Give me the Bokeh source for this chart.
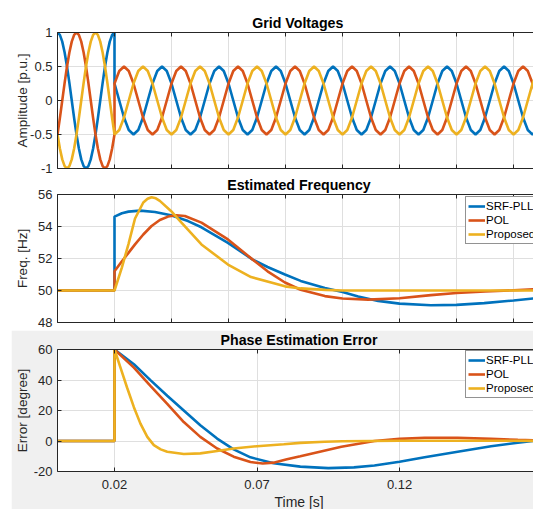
import numpy as np
from bokeh.plotting import figure
from bokeh.models import Range1d, FixedTicker, LinearAxis, Legend, LegendItem, Spacer, Title
from bokeh.layouts import column, row
from bokeh.embed import file_html
from bokeh.resources import INLINE

# ------------------------------------------------------------------ data
# Grid voltages [p.u.]: one cycle before the event
# (15 deg samples), then 7.5 cycles after the sag / phase jump (30 deg samples)
T_START, T_EVENT, T_END = 0.0, 0.02, 0.17
va_pre = [1, 0.966, 0.866, 0.707, 0.5, 0.259, 0, -0.259, -0.5, -0.707, -0.866, -0.966, -1,
          -0.966, -0.866, -0.707, -0.5, -0.259, 0, 0.259, 0.5, 0.707, 0.866, 0.966, 1]
vb_pre = [-0.5, -0.259, 0, 0.259, 0.5, 0.707, 0.866, 0.966, 1, 0.966, 0.866, 0.707, 0.5,
          0.259, 0, -0.259, -0.5, -0.707, -0.866, -0.966, -1, -0.966, -0.866, -0.707, -0.5]
vc_pre = [-0.5, -0.707, -0.866, -0.966, -1, -0.966, -0.866, -0.707, -0.5, -0.259, 0, 0.259, 0.5,
          0.707, 0.866, 0.966, 1, 0.966, 0.866, 0.707, 0.5, 0.259, 0, -0.259, -0.5]
va_post = [0.25, 0, -0.25, -0.433, -0.5, -0.433, -0.25, 0, 0.25, 0.433, 0.5, 0.433,
           0.25, 0, -0.25, -0.433, -0.5, -0.433, -0.25, 0, 0.25, 0.433, 0.5, 0.433,
           0.25, 0, -0.25, -0.433, -0.5, -0.433, -0.25, 0, 0.25, 0.433, 0.5, 0.433,
           0.25, 0, -0.25, -0.433, -0.5, -0.433, -0.25, 0, 0.25, 0.433, 0.5, 0.433,
           0.25, 0, -0.25, -0.433, -0.5, -0.433, -0.25, 0, 0.25, 0.433, 0.5, 0.433,
           0.25, 0, -0.25, -0.433, -0.5, -0.433, -0.25, 0, 0.25, 0.433, 0.5, 0.433,
           0.25, 0, -0.25, -0.433, -0.5, -0.433, -0.25, 0, 0.25, 0.433, 0.5, 0.433,
           0.25, 0, -0.25, -0.433, -0.5, -0.433, -0.25]
vb_post = [0.25, 0.433, 0.5, 0.433, 0.25, 0, -0.25, -0.433, -0.5, -0.433, -0.25, 0,
           0.25, 0.433, 0.5, 0.433, 0.25, 0, -0.25, -0.433, -0.5, -0.433, -0.25, 0,
           0.25, 0.433, 0.5, 0.433, 0.25, 0, -0.25, -0.433, -0.5, -0.433, -0.25, 0,
           0.25, 0.433, 0.5, 0.433, 0.25, 0, -0.25, -0.433, -0.5, -0.433, -0.25, 0,
           0.25, 0.433, 0.5, 0.433, 0.25, 0, -0.25, -0.433, -0.5, -0.433, -0.25, 0,
           0.25, 0.433, 0.5, 0.433, 0.25, 0, -0.25, -0.433, -0.5, -0.433, -0.25, 0,
           0.25, 0.433, 0.5, 0.433, 0.25, 0, -0.25, -0.433, -0.5, -0.433, -0.25, 0,
           0.25, 0.433, 0.5, 0.433, 0.25, 0, -0.25]
vc_post = [-0.5, -0.433, -0.25, 0, 0.25, 0.433, 0.5, 0.433, 0.25, 0, -0.25, -0.433,
           -0.5, -0.433, -0.25, 0, 0.25, 0.433, 0.5, 0.433, 0.25, 0, -0.25, -0.433,
           -0.5, -0.433, -0.25, 0, 0.25, 0.433, 0.5, 0.433, 0.25, 0, -0.25, -0.433,
           -0.5, -0.433, -0.25, 0, 0.25, 0.433, 0.5, 0.433, 0.25, 0, -0.25, -0.433,
           -0.5, -0.433, -0.25, 0, 0.25, 0.433, 0.5, 0.433, 0.25, 0, -0.25, -0.433,
           -0.5, -0.433, -0.25, 0, 0.25, 0.433, 0.5, 0.433, 0.25, 0, -0.25, -0.433,
           -0.5, -0.433, -0.25, 0, 0.25, 0.433, 0.5, 0.433, 0.25, 0, -0.25, -0.433,
           -0.5, -0.433, -0.25, 0, 0.25, 0.433, 0.5]

# Estimated frequency [Hz]
t_srf_f = [0.0, 0.02, 0.02, 0.0226, 0.0249, 0.0290, 0.0342, 0.0398, 0.0458, 0.0505, 0.0598,
           0.0685, 0.0737, 0.0798, 0.0853, 0.0938, 0.1000, 0.1055, 0.1125, 0.1200, 0.1310,
           0.1400, 0.1497, 0.1600, 0.1670]
f_srf = [50.0, 50.0, 54.62, 54.83, 54.93, 54.99, 54.91, 54.70, 54.34, 53.95, 52.98,
         51.93, 51.47, 51.0, 50.6, 50.15, 49.9, 49.63, 49.35, 49.18, 49.08,
         49.1, 49.21, 49.38, 49.5]
t_pol_f = [0.0, 0.02, 0.02, 0.0226, 0.0249, 0.0272, 0.0301, 0.0330, 0.0359, 0.0388, 0.0417,
           0.0447, 0.0505, 0.0598, 0.0685, 0.0737, 0.0798, 0.0853, 0.0938, 0.1000, 0.1090,
           0.1200, 0.1310, 0.1400, 0.1500, 0.1600, 0.1670]
f_pol = [50.0, 50.0, 51.2, 51.83, 52.35, 52.88, 53.5, 54.03, 54.41, 54.62, 54.70,
         54.66, 54.24, 53.19, 51.93, 51.2, 50.5, 50.05, 49.65, 49.5, 49.43,
         49.52, 49.71, 49.84, 49.94, 50.02, 50.07]
t_prop_f = [0.0, 0.02, 0.0226, 0.0249, 0.0272, 0.0301, 0.0316, 0.0330, 0.0345, 0.0359, 0.0398,
            0.0435, 0.0505, 0.0598, 0.0679, 0.0798, 0.0853, 0.0940, 0.1000, 0.1670]
f_prop = [50.0, 50.0, 51.45, 52.9, 54.5, 55.5, 55.73, 55.83, 55.76, 55.6, 54.97,
          54.24, 52.88, 51.62, 50.84, 50.26, 50.13, 50.04, 50.0, 50.0]

# Phase estimation error [degree]
t_srf_e = [0.0, 0.02, 0.02, 0.0268, 0.0326, 0.0385, 0.0443, 0.0501, 0.0560, 0.0618, 0.0677,
           0.0758, 0.0852, 0.0950, 0.1040, 0.1112, 0.1200, 0.1288, 0.1404, 0.1521, 0.1615, 0.1670]
e_srf = [0.0, 0.0, 60.0, 50.3, 39.9, 29.7, 20.0, 10.3, 1.6, -5.5, -10.7,
         -14.6, -16.8, -17.8, -17.3, -16.1, -13.6, -10.7, -7.0, -3.4, -1.2, 0.0]
t_pol_e = [0.0, 0.02, 0.02, 0.0268, 0.0326, 0.0385, 0.0443, 0.0501, 0.0560, 0.0618, 0.0677,
           0.0720, 0.0758, 0.0805, 0.0852, 0.0890, 0.0996, 0.1112, 0.1200, 0.1288, 0.1404,
           0.1521, 0.1615, 0.1670]
e_pol = [0.0, 0.0, 60.0, 48.1, 36.2, 24.3, 12.4, 2.7, -4.9, -10.3, -13.8,
         -14.8, -14.2, -12.0, -10.0, -8.3, -3.8, 0.0, 1.4, 2.1, 2.1,
         1.4, 0.8, 0.5]
t_prop_e = [0.0, 0.02, 0.02, 0.0221, 0.0244, 0.0268, 0.0291, 0.0315, 0.0338, 0.0362, 0.0385,
            0.0443, 0.0501, 0.0560, 0.0618, 0.0700, 0.0794, 0.0852, 0.0937, 0.1000, 0.1200, 0.1670]
e_prop = [0.0, 0.0, 60.0, 48.1, 35.1, 22.2, 11.4, 2.7, -2.7, -5.5, -7.0,
          -8.5, -8.1, -6.6, -4.9, -3.4, -2.1, -1.2, -0.5, -0.2, 0.2, 0.1]

series_names = ["SRF-PLL", "POL", "Proposed"]
titles = ["Grid Voltages", "Estimated Frequency", "Phase Estimation Error"]
y_labels = ["Amplitude [p.u.]", "Freq. [Hz]", "Error [degree]"]
x_label = "Time [s]"

x_ticks_top = [0, 0.02, 0.04, 0.06, 0.08, 0.1, 0.12, 0.14, 0.16]
x_ticks_bottom = [0.02, 0.07, 0.12, 0.17]
x_tick_labels_bottom = ["0.02", "0.07", "0.12", "0.17"]
y1_ticks = [-1, -0.5, 0, 0.5, 1]
y1_tick_labels = ["-1", "-0.5", "0", "0.5", "1"]
y2_ticks = [48, 50, 52, 54, 56]
y2_tick_labels = ["48", "50", "52", "54", "56"]
y3_ticks = [-20, 0, 20, 40, 60]
y3_tick_labels = ["-20", "0", "20", "40", "60"]
X_VIEW_END = 0.167

# ------------------------------------------------------------------ style
COLORS = ["#0072BD", "#D95319", "#EDB120"]
AX = "#262626"
GRID = "#DFDFDF"
FONT = "Liberation Sans"
LW = 2.6


def style_axis(ax, ticks, labels=None, show=True, standoff=5):
    ax.ticker = FixedTicker(ticks=ticks)
    ax.axis_line_color = AX
    ax.axis_line_width = 1
    ax.major_tick_line_color = AX
    ax.major_tick_in = 4
    ax.major_tick_out = 0
    ax.minor_tick_line_color = None
    ax.major_label_text_font = FONT
    if show:
        ax.major_label_text_color = AX
        ax.major_label_text_font_size = "13px"
        ax.major_label_standoff = standoff
        if labels is not None:
            ax.major_label_overrides = {t: l for t, l in zip(ticks, labels)}
    else:
        ax.major_label_text_color = None
        ax.major_label_text_alpha = 0
        ax.major_label_text_font_size = "0px"
        ax.major_label_standoff = 0
    ax.axis_label_text_font = FONT
    ax.axis_label_text_font_size = "13.5px"
    ax.axis_label_text_font_style = "normal"
    ax.axis_label_text_color = AX


def make_fig(width, height, yr, xticks, yticks, ylabs, ylabel, ylab_standoff, title,
             title_offset, top, bottom, left, show_x, border="white"):
    p = figure(width=width, height=height, x_range=Range1d(T_START, X_VIEW_END),
               y_range=Range1d(*yr), output_backend="svg", toolbar_location=None,
               min_border_left=left, min_border_right=0, min_border_top=top,
               min_border_bottom=bottom, title=title)
    p.outline_line_color = None
    p.border_fill_color = border
    p.background_fill_color = "white"
    p.title.text_font = FONT
    p.title.text_font_size = "14.2px"
    p.title.text_font_style = "bold"
    p.title.text_color = "black"
    p.title.align = "left"
    p.title.vertical_align = "top"
    p.title.offset = title_offset
    p.title.standoff = 0
    top_ax = LinearAxis()
    p.add_layout(top_ax, "above")
    style_axis(top_ax, xticks, show=False)
    for ax in p.below:
        if show_x:
            style_axis(ax, xticks, x_tick_labels_bottom, show=True, standoff=8)
        else:
            style_axis(ax, xticks, show=False)
    for ax in p.left:
        style_axis(ax, yticks, ylabs, show=True, standoff=5)
        ax.axis_label = ylabel
        ax.axis_label_standoff = ylab_standoff
    p.xgrid.ticker = FixedTicker(ticks=xticks)
    p.ygrid.ticker = FixedTicker(ticks=yticks)
    p.xgrid.grid_line_color = GRID
    p.ygrid.grid_line_color = GRID
    return p


def add_legend(p, renderers, x, y):
    leg = Legend(items=[LegendItem(label=n, renderers=[r]) for n, r in zip(series_names, renderers)],
                 location=(x, y), orientation="vertical")
    leg.label_text_font = FONT
    leg.label_text_font_size = "11.5px"
    leg.label_text_color = "black"
    leg.border_line_color = AX
    leg.border_line_width = 1
    leg.background_fill_color = "white"
    leg.background_fill_alpha = 1
    leg.padding = 2
    leg.spacing = 0
    leg.margin = 0
    leg.glyph_width = 17
    leg.glyph_height = 14
    leg.label_height = 14
    leg.label_standoff = 1
    p.add_layout(leg)


# ---- Grid Voltages
p1 = make_fig(533, 175, (-1, 1), x_ticks_top, y1_ticks, y1_tick_labels, y_labels[0], -3,
              titles[0], 194.7, top=32, bottom=7, left=57, show_x=False)
t_pre = np.linspace(T_START, T_EVENT, len(va_pre))
t_post = np.linspace(T_EVENT, T_END, len(va_post))
t_v = np.concatenate([t_pre, t_post])
for v_pre, v_post, c in zip([va_pre, vb_pre, vc_pre], [va_post, vb_post, vc_post], COLORS):
    p1.line(t_v, np.concatenate([v_pre, v_post]), line_color=c, line_width=LW)

# ---- Estimated Frequency
p2 = make_fig(533, 155, (48, 56), x_ticks_top, y2_ticks, y2_tick_labels, y_labels[1], 5,
              titles[1], 169.7, top=19, bottom=8, left=57, show_x=False)
r2 = []
for tt, yy, c in zip([t_srf_f, t_pol_f, t_prop_f], [f_srf, f_pol, f_prop], COLORS):
    r2.append(p2.line(tt, yy, line_color=c, line_width=LW))
add_legend(p2, r2, 408, 78)

# ---- Phase Estimation Error
p3 = make_fig(522, 179, (-20, 60), x_ticks_bottom, y3_ticks, y3_tick_labels, y_labels[2], 1,
              titles[2], 163.0, top=19, bottom=37, left=46, show_x=True, border="#F0F0F0")
r3 = []
for tt, yy, c in zip([t_srf_e, t_pol_e, t_prop_e], [e_srf, e_pol, e_prop], COLORS):
    r3.append(p3.line(tt, yy, line_color=c, line_width=LW))
add_legend(p3, r3, 408, 73)
p3.add_layout(Title(text=x_label, align="left", offset=217, vertical_align="bottom", standoff=0,
                    text_font=FONT, text_font_size="14px", text_font_style="normal",
                    text_color=AX), "below")

layout = column(p1, p2, row(Spacer(width=11, height=179), p3))
open("out.html", "w").write(file_html(layout, INLINE))
